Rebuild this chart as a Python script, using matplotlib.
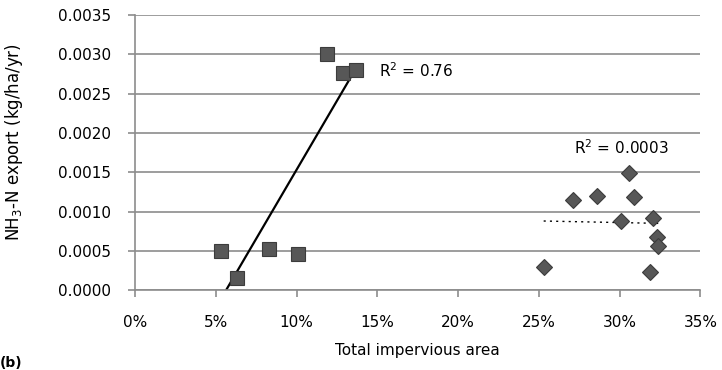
import numpy as np
import matplotlib
matplotlib.use('Agg')
import matplotlib.pyplot as plt

plt.rcParams['font.family'] = ['DejaVu Sans']

# grupo 1 (cuadrados): area impermeable (%) y exportacion NH3-N
x_cuad = [5.3, 6.3, 8.3, 10.1, 11.9, 12.9, 13.7]
y_cuad = [0.00050, 0.00015, 0.00052, 0.00046, 0.00300, 0.00276, 0.00280]

# grupo 2 (rombos)
x_romb = [25.3, 27.1, 28.6, 30.1, 30.6, 30.9, 31.9, 32.1, 32.3, 32.4]
y_romb = [0.00030, 0.00115, 0.00120, 0.00088, 0.00149, 0.00118, 0.00023, 0.00092, 0.00068, 0.00056]

xticks = [0, 5, 10, 15, 20, 25, 30, 35]
yticks = [0.0, 0.0005, 0.0010, 0.0015, 0.0020, 0.0025, 0.0030, 0.0035]

gris = '#8c8c8c'

fig = plt.figure(figsize=(7.22, 3.70), dpi=100)
ax = fig.add_axes([0.187, 0.216, 0.783, 0.743])

# lineas de tendencia (minimos cuadrados)
p1 = np.polyfit(x_cuad, y_cuad, 1)
xs1 = np.array([min(x_cuad), max(x_cuad)])
ax.plot(xs1, np.polyval(p1, xs1), color='black', lw=1.6, zorder=2)

p2 = np.polyfit(x_romb, y_romb, 1)
xs2 = np.array([min(x_romb), max(x_romb)])
ax.plot(xs2, np.polyval(p2, xs2), color='black', lw=1.0, ls=(0, (1.5, 3)), zorder=2)

ax.plot(x_cuad, y_cuad, 's', ms=10, mfc='#575757', mec='#3c3c3c', mew=0.8, zorder=3)
ax.plot(x_romb, y_romb, 'D', ms=8.5, mfc='#575757', mec='#3c3c3c', mew=0.8, zorder=3)

ax.text(15.1, 0.00279, r'R$^2$ = 0.76', fontsize=11, va='center')
ax.text(27.2, 0.00181, r'R$^2$ = 0.0003', fontsize=11, va='center')

ax.set_xlim(0, 35)
ax.set_ylim(0, 0.0035)
ax.set_xticks(xticks)
ax.set_xticklabels([f'{t}%' for t in xticks])
ax.set_yticks(yticks)
ax.set_yticklabels([f'{t:.4f}' for t in yticks])
ax.yaxis.grid(True, color=gris, lw=1.2)
ax.set_axisbelow(True)

for s in ['top', 'right']:
    ax.spines[s].set_visible(False)
for s in ['left', 'bottom']:
    ax.spines[s].set_color(gris)
    ax.spines[s].set_linewidth(1.2)
ax.tick_params(axis='both', colors=gris, labelcolor='black', labelsize=11, length=5, width=1.2)
ax.tick_params(axis='x', pad=13)
ax.tick_params(axis='y', pad=12)

ax.set_xlabel('Total impervious area', fontsize=11, labelpad=9)
ax.set_ylabel(r'NH$_3$-N export (kg/ha/yr)', fontsize=12)
ax.yaxis.set_label_coords(-0.195, 0.54)

fig.text(0.0, 0.0, '(b)', fontsize=10, fontweight='bold', va='bottom')

fig.savefig('out.png', dpi=100)
